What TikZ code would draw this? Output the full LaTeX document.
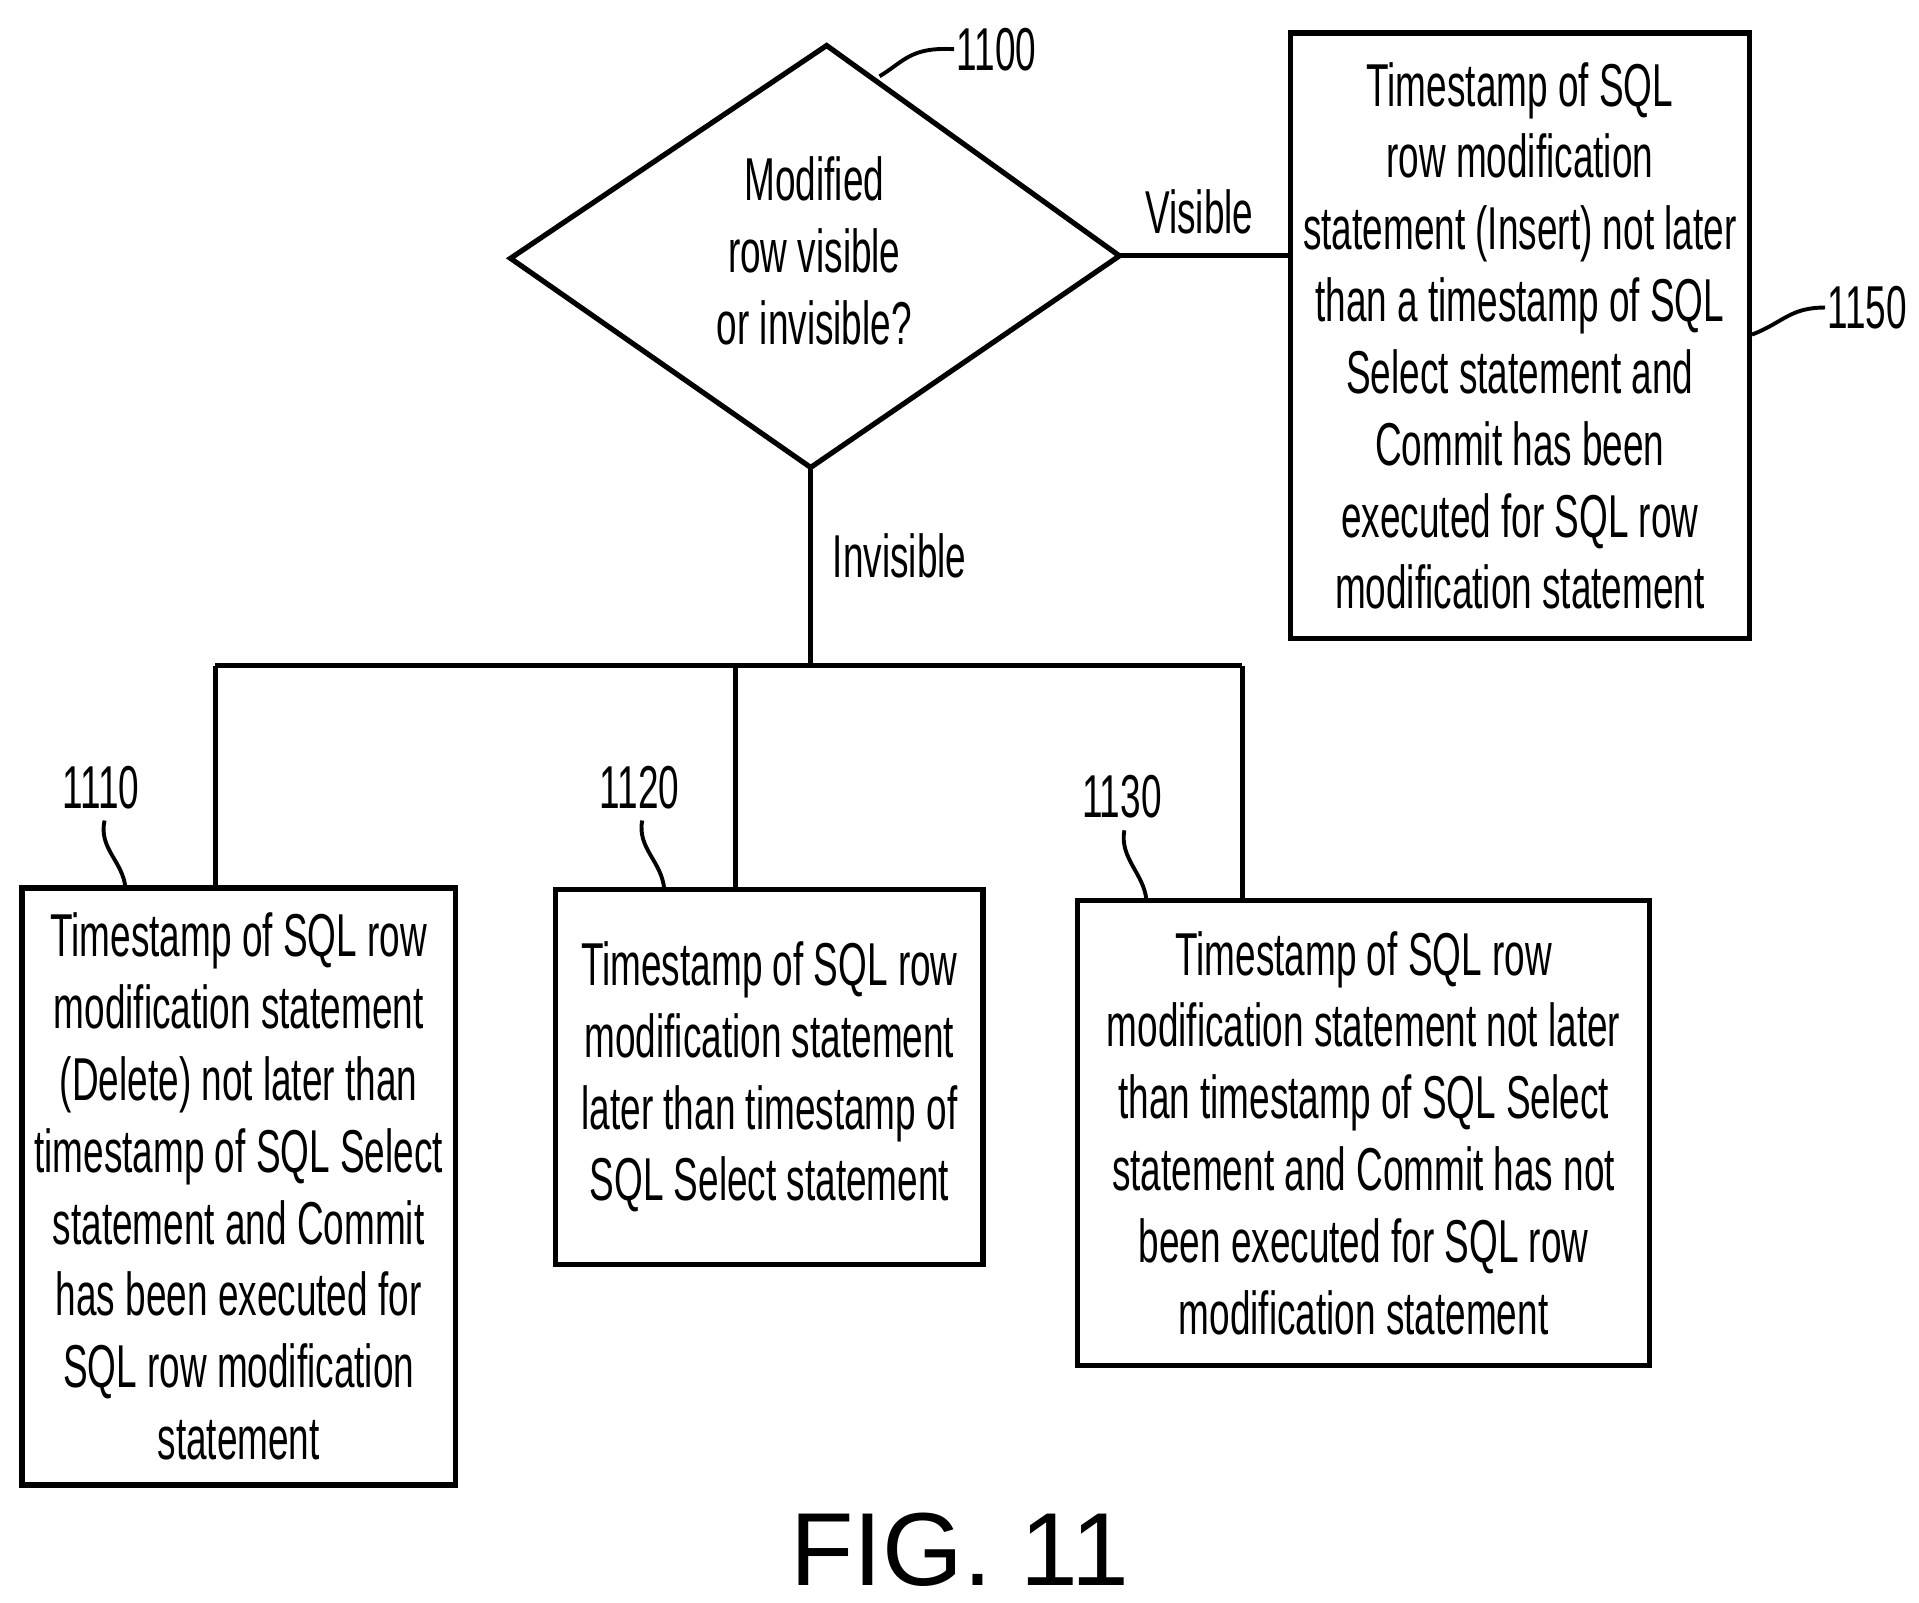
\documentclass[tikz,border=0pt]{standalone}
\usepackage{fontspec}
\setmainfont{Liberation Sans}[FakeStretch=0.61]
\newfontfamily\figfont{Liberation Sans}
\begin{document}
\begin{tikzpicture}[x=0.01cm,y=-0.01cm,line width=1.2pt,
  box/.style={draw,rectangle,align=center,font=\fontsize{14pt}{16.6pt}\selectfont,inner sep=0pt},
  lbl/.style={font=\fontsize{14pt}{16.6pt}\selectfont,inner sep=0pt},
  sq/.style={line width=0.9pt}]
\useasboundingbox (0,0) rectangle (1560,1303);
% diamond
\coordinate (dt) at (672,37); \coordinate (dl) at (415,210);
\coordinate (dr) at (910,208); \coordinate (db) at (659,380);
\draw (dt) -- (dr) -- (db) -- (dl) -- cycle;
\node[lbl,align=center] (dq) at (662,204) {Modified\\row visible\\or invisible?};
% boxes
\node[box,minimum width=3.73cm,minimum height=4.92cm] (b1150) at (1235.5,273) {Timestamp of SQL\\row modification\\statement (Insert) not later\\than a timestamp of SQL\\Select statement and\\Commit has been\\executed for SQL row\\modification statement};
\node[box,minimum width=3.52cm,minimum height=4.85cm] (b1110) at (194,964.5) {Timestamp of SQL row\\modification statement\\(Delete) not later than\\timestamp of SQL Select\\statement and Commit\\has been executed for\\SQL row modification\\statement};
\node[box,minimum width=3.47cm,minimum height=3.05cm] (b1120) at (625.5,875.5) {Timestamp of SQL row\\modification statement\\later than timestamp of\\SQL Select statement};
\node[box,minimum width=4.65cm,minimum height=3.78cm] (b1130) at (1108.5,921) {Timestamp of SQL row\\modification statement not later\\than timestamp of SQL Select\\statement and Commit has not\\been executed for SQL row\\modification statement};
% connectors
\draw (dr) -- (b1150.west |- dr);
\node[lbl] (vis) at (975,172) {Visible};
\coordinate (j) at (659,541);
\draw (db) -- (j);
\node[lbl,anchor=west] (inv) at (675,452) {Invisible};
\coordinate (jl) at (175,541); \coordinate (jr) at (1010,541); \coordinate (jm) at (598,541);
\draw (jl) -- (jr);
\draw (jl) -- (jl |- b1110.north);
\draw (jm) -- (jm |- b1120.north);
\draw (jr) -- (jr |- b1130.north);
% reference numerals
\node[lbl] (n1100) at (810,40) {1100};
\draw[sq] (715,62) .. controls (735,50) and (740,38) .. (n1100.west);
\node[lbl] (n1150) at (1518,250) {1150};
\draw[sq] (b1150.east |- 0,272) .. controls (1450,262) and (1455,250) .. (n1150.west);
\node[lbl] (n1110) at (82,640) {1110};
\draw[sq] (85,667) .. controls (80,690) and (100,700) .. (102,722);
\node[lbl] (n1120) at (520,640) {1120};
\draw[sq] (522,667) .. controls (518,690) and (538,700) .. (540,723);
\node[lbl] (n1130) at (912,648) {1130};
\draw[sq] (914,675) .. controls (910,698) and (930,710) .. (932,732);
\node[inner sep=0pt,font=\figfont\fontsize{24pt}{28pt}\selectfont] (fig) at (780,1260) {FIG. 11};
\end{tikzpicture}
\end{document}
